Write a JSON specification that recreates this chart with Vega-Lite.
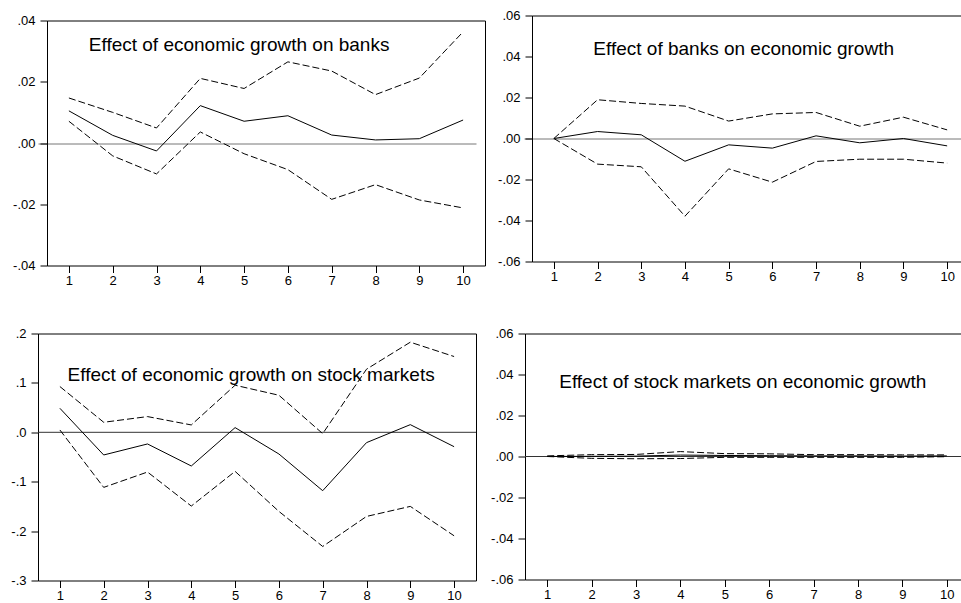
{
  "$schema": "https://vega.github.io/schema/vega-lite/v6.json",
  "padding": {"left": 0, "top": 9.5, "right": 0, "bottom": 0},
  "background": "white",
  "datasets": {
    "irf": [
      {"p": 1, "s": 1, "resp": 0.0105, "hi": 0.0147, "lo": 0.0071},
      {"p": 1, "s": 2, "resp": 0.0025, "hi": 0.0100, "lo": -0.0042},
      {"p": 1, "s": 3, "resp": -0.0026, "hi": 0.0049, "lo": -0.0101},
      {"p": 1, "s": 4, "resp": 0.0122, "hi": 0.0211, "lo": 0.0036},
      {"p": 1, "s": 5, "resp": 0.0071, "hi": 0.0178, "lo": -0.0035},
      {"p": 1, "s": 6, "resp": 0.0089, "hi": 0.0265, "lo": -0.0087},
      {"p": 1, "s": 7, "resp": 0.0026, "hi": 0.0235, "lo": -0.0184},
      {"p": 1, "s": 8, "resp": 0.0010, "hi": 0.0158, "lo": -0.0136},
      {"p": 1, "s": 9, "resp": 0.0014, "hi": 0.0212, "lo": -0.0186},
      {"p": 1, "s": 10, "resp": 0.0075, "hi": 0.0363, "lo": -0.0212},
      {"p": 2, "s": 1, "resp": 0.0, "hi": 0.0, "lo": 0.0},
      {"p": 2, "s": 2, "resp": 0.0034, "hi": 0.0189, "lo": -0.0125},
      {"p": 2, "s": 3, "resp": 0.0018, "hi": 0.0171, "lo": -0.0138},
      {"p": 2, "s": 4, "resp": -0.0111, "hi": 0.0158, "lo": -0.0379},
      {"p": 2, "s": 5, "resp": -0.0031, "hi": 0.0085, "lo": -0.0148},
      {"p": 2, "s": 6, "resp": -0.0047, "hi": 0.0120, "lo": -0.0213},
      {"p": 2, "s": 7, "resp": 0.0013, "hi": 0.0127, "lo": -0.0112},
      {"p": 2, "s": 8, "resp": -0.0021, "hi": 0.0060, "lo": -0.0101},
      {"p": 2, "s": 9, "resp": 0.0000, "hi": 0.0104, "lo": -0.0101},
      {"p": 2, "s": 10, "resp": -0.0036, "hi": 0.0042, "lo": -0.0120},
      {"p": 3, "s": 1, "resp": 0.0486, "hi": 0.0926, "lo": 0.0047},
      {"p": 3, "s": 2, "resp": -0.0459, "hi": 0.0203, "lo": -0.1115},
      {"p": 3, "s": 3, "resp": -0.0236, "hi": 0.0318, "lo": -0.0804},
      {"p": 3, "s": 4, "resp": -0.0682, "hi": 0.0149, "lo": -0.1493},
      {"p": 3, "s": 5, "resp": 0.0095, "hi": 0.0953, "lo": -0.0791},
      {"p": 3, "s": 6, "resp": -0.0439, "hi": 0.0750, "lo": -0.1601},
      {"p": 3, "s": 7, "resp": -0.1182, "hi": -0.0027, "lo": -0.2311},
      {"p": 3, "s": 8, "resp": -0.0209, "hi": 0.1277, "lo": -0.1703},
      {"p": 3, "s": 9, "resp": 0.0155, "hi": 0.1824, "lo": -0.1500},
      {"p": 3, "s": 10, "resp": -0.0291, "hi": 0.1534, "lo": -0.2095},
      {"p": 4, "s": 1, "resp": 0.0, "hi": 0.0003, "lo": 0.0},
      {"p": 4, "s": 2, "resp": 0.0001, "hi": 0.0009, "lo": -0.0009},
      {"p": 4, "s": 3, "resp": 0.0002, "hi": 0.0010, "lo": -0.0011},
      {"p": 4, "s": 4, "resp": 0.0007, "hi": 0.0024, "lo": -0.0010},
      {"p": 4, "s": 5, "resp": 0.0005, "hi": 0.0014, "lo": -0.0004},
      {"p": 4, "s": 6, "resp": 0.0004, "hi": 0.0013, "lo": -0.0004},
      {"p": 4, "s": 7, "resp": 0.0003, "hi": 0.0009, "lo": -0.0004},
      {"p": 4, "s": 8, "resp": 0.0003, "hi": 0.0009, "lo": -0.0004},
      {"p": 4, "s": 9, "resp": 0.0002, "hi": 0.0008, "lo": -0.0004},
      {"p": 4, "s": 10, "resp": 0.0003, "hi": 0.0008, "lo": -0.0001}
    ]
  },
  "config": {
    "font": "Liberation Sans",
    "view": {"stroke": "black", "strokeWidth": 1},
    "axis": {"domain": false, "grid": false, "ticks": true, "tickColor": "black", "domainColor": "black", "labelColor": "black", "labelFont": "Liberation Sans", "labelFontSize": 13, "tickSize": 7},
    "axisX": {"labelPadding": 2, "labelAngle": 0, "tickBand": "extent"},
    "axisY": {"labelPadding": 5},
    "line": {"color": "black", "strokeWidth": 1},
    "text": {"font": "Liberation Sans", "fontSize": 19, "color": "black", "align": "center", "baseline": "middle"}
  },
  "columns": 2,
  "align": "none",
  "spacing": {"row": 39, "column": 0},
  "concat": [
    {
      "width": 447, "height": 250,
      "view": {"stroke": null},
      "data": {"name": "irf"},
      "transform": [{"filter": "datum.p === 1"}],
      "resolve": {"axis": {"x": "independent", "y": "independent"}},
      "layer": [
        {"mark": {"type": "line", "strokeDash": [7, 3]}, "encoding": {"x": {"field": "s", "type": "ordinal", "scale": {"paddingInner": 0, "paddingOuter": 0, "range": [9, 447]}, "axis": {"title": null, "domain": true}}, "y": {"field": "hi", "type": "quantitative", "scale": {"domain": [-0.04, 0.04], "nice": false, "zero": false, "range": [250, 5]}, "axis": {"title": null, "domain": true, "offset": -9, "values": [-0.04, -0.02, 0, 0.02, 0.04], "labelExpr": "replace(replace(format(datum.value,'.2f'),'0.','.'),'\u2212','-')", "minExtent": 46, "maxExtent": 46}}}},
        {"mark": {"type": "line", "strokeOpacity": 0}, "encoding": {"x": {"field": "s", "type": "ordinal", "axis": {"title": null, "orient": "top", "domain": true, "ticks": false, "labels": false, "offset": -5}}, "y": {"field": "hi", "type": "quantitative", "axis": {"title": null, "orient": "right", "domain": true, "ticks": false, "labels": false, "grid": true, "gridColor": "#777", "gridWidth": 1, "values": [0], "minExtent": 0, "maxExtent": 0}}}},
        {"mark": {"type": "line", "strokeDash": [7, 3]}, "encoding": {"x": {"field": "s", "type": "ordinal", "axis": null}, "y": {"field": "lo", "type": "quantitative", "axis": null}}},
        {"mark": {"type": "line"}, "encoding": {"x": {"field": "s", "type": "ordinal", "axis": null}, "y": {"field": "resp", "type": "quantitative", "axis": null}}},
        {"data": {"values": [{"label": "Effect of economic growth on banks"}]}, "mark": {"type": "text", "dx": -5}, "encoding": {"text": {"field": "label"}, "x": {"datum": 5, "type": "ordinal", "axis": null}, "y": {"datum": 0.0319, "type": "quantitative", "axis": null}}}
      ]
    },
    {
      "width": 445, "height": 246,
      "view": {"stroke": null},
      "data": {"name": "irf"},
      "transform": [{"filter": "datum.p === 2"}],
      "resolve": {"axis": {"x": "independent", "y": "independent"}},
      "layer": [
        {"mark": {"type": "line", "strokeDash": [7, 3]}, "encoding": {"x": {"field": "s", "type": "ordinal", "scale": {"paddingInner": 0, "paddingOuter": 0, "range": [8, 445]}, "axis": {"title": null, "domain": true}}, "y": {"field": "hi", "type": "quantitative", "scale": {"domain": [-0.06, 0.06], "nice": false, "zero": false}, "axis": {"title": null, "domain": true, "offset": -8, "values": [-0.06, -0.04, -0.02, 0, 0.02, 0.04, 0.06], "labelExpr": "replace(replace(format(datum.value,'.2f'),'0.','.'),'\u2212','-')", "minExtent": 47, "maxExtent": 47}}}},
        {"mark": {"type": "line", "strokeOpacity": 0}, "encoding": {"x": {"field": "s", "type": "ordinal", "axis": {"title": null, "orient": "top", "domain": true, "ticks": false, "labels": false}}, "y": {"field": "hi", "type": "quantitative", "axis": {"title": null, "orient": "right", "domain": false, "ticks": false, "labels": false, "grid": true, "gridColor": "#777", "gridWidth": 1, "values": [0], "minExtent": 0, "maxExtent": 0}}}},
        {"mark": {"type": "line", "strokeDash": [7, 3]}, "encoding": {"x": {"field": "s", "type": "ordinal", "axis": null}, "y": {"field": "lo", "type": "quantitative", "axis": null}}},
        {"mark": {"type": "line"}, "encoding": {"x": {"field": "s", "type": "ordinal", "axis": null}, "y": {"field": "resp", "type": "quantitative", "axis": null}}},
        {"data": {"values": [{"label": "Effect of banks on economic growth"}]}, "mark": {"type": "text", "dx": 15, "dy": 1}, "encoding": {"text": {"field": "label"}, "x": {"datum": 5, "type": "ordinal", "axis": null}, "y": {"datum": 0.044, "type": "quantitative", "axis": null}}}
      ]
    },
    {
      "width": 438, "height": 247,
      "data": {"name": "irf"},
      "transform": [{"filter": "datum.p === 3"}],
      "layer": [
        {"data": {"values": [{"z": 0}]}, "mark": {"type": "rule", "color": "#333", "strokeWidth": 1}, "encoding": {"y": {"field": "z", "type": "quantitative"}}},
        {"mark": {"type": "line", "strokeDash": [7, 3]}, "encoding": {"x": {"field": "s", "type": "ordinal", "scale": {"paddingInner": 0, "paddingOuter": 0}, "axis": {"title": null}}, "y": {"field": "hi", "type": "quantitative", "scale": {"domain": [-0.3, 0.2], "nice": false, "zero": false}, "axis": {"title": null, "values": [-0.3, -0.2, -0.1, 0, 0.1, 0.2], "labelExpr": "replace(replace(format(datum.value,'.1f'),'0.','.'),'\u2212','-')", "minExtent": 37, "maxExtent": 37}}}},
        {"mark": {"type": "line", "strokeDash": [7, 3]}, "encoding": {"x": {"field": "s", "type": "ordinal"}, "y": {"field": "lo", "type": "quantitative"}}},
        {"mark": {"type": "line"}, "encoding": {"x": {"field": "s", "type": "ordinal"}, "y": {"field": "resp", "type": "quantitative"}}},
        {"data": {"values": [{"label": "Effect of economic growth on stock markets"}]}, "mark": {"type": "text", "dx": 16}, "encoding": {"text": {"field": "label"}, "x": {"datum": 5, "type": "ordinal"}, "y": {"datum": 0.115, "type": "quantitative"}}}
      ]
    },
    {
      "width": 444, "height": 246,
      "data": {"name": "irf"},
      "transform": [{"filter": "datum.p === 4"}],
      "layer": [
        {"data": {"values": [{"z": 0}]}, "mark": {"type": "rule", "color": "#333", "strokeWidth": 1}, "encoding": {"y": {"field": "z", "type": "quantitative"}}},
        {"mark": {"type": "line", "strokeDash": [7, 3]}, "encoding": {"x": {"field": "s", "type": "ordinal", "scale": {"paddingInner": 0, "paddingOuter": 0}, "axis": {"title": null}}, "y": {"field": "hi", "type": "quantitative", "scale": {"domain": [-0.06, 0.06], "nice": false, "zero": false}, "axis": {"title": null, "values": [-0.06, -0.04, -0.02, 0, 0.02, 0.04, 0.06], "labelExpr": "replace(replace(format(datum.value,'.2f'),'0.','.'),'\u2212','-')", "minExtent": 39, "maxExtent": 39}}}},
        {"mark": {"type": "line", "strokeDash": [7, 3]}, "encoding": {"x": {"field": "s", "type": "ordinal"}, "y": {"field": "lo", "type": "quantitative"}}},
        {"mark": {"type": "line"}, "encoding": {"x": {"field": "s", "type": "ordinal"}, "y": {"field": "resp", "type": "quantitative"}}},
        {"data": {"values": [{"label": "Effect of stock markets on economic growth"}]}, "mark": {"type": "text", "dx": 18}, "encoding": {"text": {"field": "label"}, "x": {"datum": 5, "type": "ordinal"}, "y": {"datum": 0.0361, "type": "quantitative"}}}
      ]
    }
  ]
}
